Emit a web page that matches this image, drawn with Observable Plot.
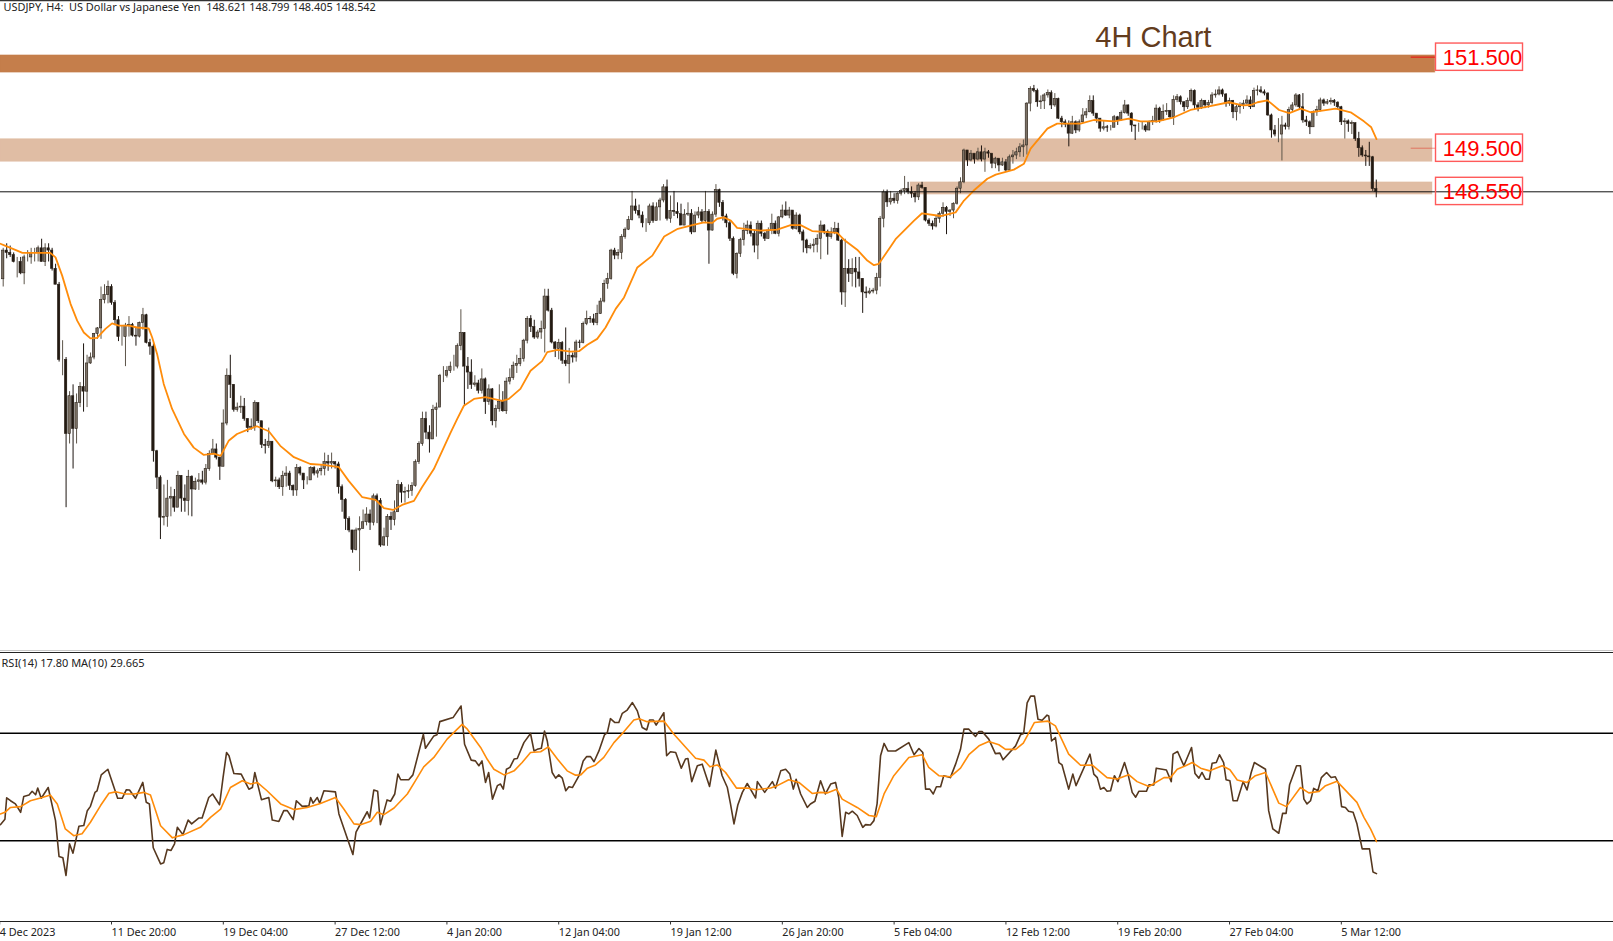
<!DOCTYPE html>
<html><head><meta charset="utf-8">
<script src="https://cdn.jsdelivr.net/npm/d3@7"></script>
<script src="https://cdn.jsdelivr.net/npm/@observablehq/plot@0.6"></script>
<style>html,body{margin:0;padding:0;background:#fff;overflow:hidden}svg{display:block}</style>
</head><body><div id="chart"></div>
<script>
const firstOpen = 146.62;
const closes = [
147.25,147.2,147.15,147.0,147.0,146.75,147.1,147.1,147.2,147.2,
147.3,147.0,147.3,147.25,146.85,146.5,144.85,144.85,143.22,144.05,
143.33,143.9,144.25,144.15,144.77,144.9,145.42,145.54,146.16,146.27,
146.45,146.1,145.72,145.35,145.35,145.6,145.62,145.38,145.36,145.66,
145.83,145.22,145.14,142.84,142.26,141.38,141.4,141.8,141.84,141.6,
142.3,141.8,141.75,142.28,142.0,142.17,142.2,142.15,142.45,142.78,
142.88,142.7,142.5,143.45,144.5,144.3,143.75,143.8,143.82,143.55,
143.35,143.38,143.9,143.5,142.98,142.96,143.05,142.18,142.2,142.05,
142.3,142.35,142.08,141.98,142.47,142.35,142.2,142.2,142.47,142.35,
142.4,142.45,142.6,142.57,142.6,142.55,142.05,141.77,141.35,141.1,
140.67,141.1,141.13,141.28,141.45,141.27,141.85,141.75,140.77,140.95,
141.4,141.33,141.5,142.1,141.93,141.95,141.97,142.08,142.6,143.0,
143.55,143.25,143.1,143.75,143.8,144.5,144.5,144.6,144.7,144.7,
145.15,145.44,144.7,144.57,144.3,144.33,144.17,144.42,143.92,144.2,
143.5,143.77,143.92,143.72,144.37,144.45,144.72,144.76,144.87,145.27,
145.75,145.57,145.34,145.45,145.53,146.24,145.93,145.23,145.09,145.22,
144.83,144.76,144.94,144.9,145.23,145.22,145.64,145.75,145.74,145.66,
145.86,146.13,146.52,146.63,147.25,147.14,147.2,147.55,147.71,147.92,
148.22,148.12,148.02,147.85,147.85,148.22,147.9,148.2,148.35,148.64,
147.95,148.12,148.1,148.05,147.8,148.04,148.06,147.65,148.02,148.09,
147.9,148.1,147.69,148.04,148.58,148.3,148.0,147.85,147.51,146.74,
147.18,147.48,147.68,147.8,147.62,147.36,147.84,147.62,147.51,147.69,
147.84,147.62,147.98,148.13,148.02,148.13,147.73,148.02,147.65,147.47,
147.3,147.35,147.38,147.51,147.8,147.66,147.55,147.65,147.73,147.47,
146.33,146.85,146.74,146.85,146.77,146.63,146.33,146.31,146.35,146.37,
146.65,147.95,148.53,148.31,148.39,148.34,148.5,148.56,148.6,148.53,
148.5,148.42,148.68,148.63,147.91,147.84,147.78,147.95,148.06,148.19,
148.1,148.13,148.28,148.61,148.75,149.45,149.23,149.38,149.25,149.41,
149.25,149.41,149.38,149.16,149.27,149.12,149.19,149.01,149.3,149.34,
149.41,149.52,149.56,150.48,150.8,150.76,150.51,150.53,150.66,150.71,
150.44,150.58,150.15,150.07,150.02,149.82,150.07,149.89,150.07,150.22,
150.29,150.54,150.26,150.15,149.93,149.96,149.95,149.95,150.18,150.11,
150.27,150.44,150.26,150.0,149.98,149.98,149.98,149.89,150.07,150.1,
150.37,150.11,150.3,150.32,150.18,150.56,150.62,150.51,150.4,150.54,
150.76,150.44,150.39,150.54,150.44,150.49,150.66,150.68,150.77,150.68,
150.48,150.54,150.29,150.4,150.44,150.48,150.55,150.4,150.76,150.77,
150.73,150.7,150.22,149.89,149.8,149.8,150.0,149.97,150.34,150.44,
150.66,150.4,150.11,150.07,149.96,150.29,150.34,150.55,150.48,150.51,
150.54,150.5,150.4,150.07,150.09,150.03,150.05,149.7,149.5,149.34,
149.32,149.3,148.6,148.54];
const highs = [
147.3,147.4,147.35,147.2,147.1,147.1,147.15,147.25,147.3,147.3,
147.35,147.5,147.4,147.4,147.3,146.95,146.55,145.27,144.9,144.15,
144.3,144.1,144.35,145.2,144.95,145.0,145.43,145.56,146.45,146.5,
146.58,146.5,146.15,145.8,145.6,145.65,145.8,145.65,145.55,145.68,
145.98,145.85,145.3,145.2,142.86,142.3,142.1,142.2,142.05,142.0,
142.4,142.3,142.1,142.42,142.3,142.25,142.35,142.4,142.55,142.85,
143.1,143.0,142.7,143.75,144.65,144.95,144.3,143.9,144.05,144.0,
143.55,143.55,143.95,143.9,143.5,143.1,143.35,143.05,142.27,142.25,
142.4,142.5,142.4,142.1,142.55,142.5,142.3,142.28,142.5,142.5,
142.45,142.55,142.8,142.75,142.8,142.6,142.6,142.1,141.8,141.4,
141.1,141.15,141.4,141.55,141.6,141.55,141.9,141.9,141.8,141.15,
141.45,141.5,141.75,142.2,142.15,142.05,142.1,142.15,142.65,143.05,
143.7,143.7,143.4,143.85,143.9,144.53,144.7,144.7,144.8,144.95,
145.2,145.95,145.45,144.9,144.85,144.5,144.4,144.65,144.45,144.3,
144.22,143.85,144.3,144.15,144.45,144.65,144.8,144.95,145.1,145.3,
145.8,145.82,145.72,145.5,145.7,146.4,146.4,145.98,145.25,145.3,
145.25,145.55,145.1,145.0,145.28,145.28,145.68,145.92,145.8,145.85,
146.05,146.2,146.6,146.75,147.28,147.3,147.27,147.6,147.75,148.0,
148.55,148.38,148.25,148.1,147.95,148.27,148.3,148.3,148.4,148.7,
148.8,148.45,148.55,148.3,148.27,148.15,148.3,148.15,148.1,148.2,
148.15,148.55,148.15,148.1,148.7,148.6,148.35,148.05,147.9,147.55,
147.2,147.52,147.85,147.9,147.88,147.7,147.9,147.9,147.65,147.75,
148.05,147.9,148.0,148.25,148.32,148.2,148.05,148.08,148.05,147.7,
147.5,147.4,147.5,147.6,147.9,147.82,147.7,147.75,147.87,147.85,
147.5,147.5,147.05,147.07,147.1,147.1,146.63,146.45,146.42,146.42,
146.75,148.0,148.58,148.58,148.55,148.5,148.52,148.6,148.88,148.75,
148.65,148.55,148.72,148.75,148.62,147.95,147.9,148.0,148.1,148.3,
148.22,148.15,148.3,148.65,148.85,149.48,149.45,149.45,149.35,149.5,
149.55,149.5,149.45,149.3,149.3,149.25,149.28,149.25,149.35,149.45,
149.5,149.6,149.68,150.5,150.85,150.88,150.8,150.65,150.7,150.78,
150.76,150.7,150.6,150.2,150.12,150.1,150.2,150.1,150.12,150.37,
150.37,150.65,150.65,150.25,150.15,150.1,150.0,150.0,150.22,150.2,
150.32,150.55,150.45,150.28,150.0,150.05,150.08,150.02,150.1,150.2,
150.45,150.4,150.45,150.48,150.33,150.65,150.68,150.65,150.52,150.6,
150.8,150.78,150.5,150.58,150.55,150.55,150.72,150.78,150.85,150.8,
150.7,150.6,150.55,150.47,150.5,150.55,150.65,150.63,150.82,150.87,
150.85,150.78,150.72,150.25,150.0,150.15,150.2,150.05,150.4,150.5,
150.7,150.68,150.7,150.2,150.1,150.32,150.42,150.6,150.58,150.57,
150.6,150.57,150.52,150.42,150.15,150.12,150.1,150.05,149.85,149.55,
149.45,149.63,149.32,148.8];
const lows = [
146.45,147.07,147.1,146.98,146.65,146.72,146.5,147.0,146.95,147.0,
147.0,147.0,146.9,147.0,146.8,146.5,144.8,144.5,141.6,143.0,
142.45,143.0,143.8,143.7,143.8,144.75,144.85,145.3,145.3,146.08,
146.08,146.05,145.6,145.25,145.15,144.7,145.35,145.35,145.15,145.33,
145.5,145.2,144.95,142.6,142.0,140.9,141.2,141.17,141.4,141.5,
141.75,141.5,141.5,141.42,141.4,141.98,141.98,142.1,142.1,142.4,
142.75,142.65,142.2,142.5,143.4,144.0,143.7,143.7,143.67,143.5,
143.25,143.3,143.28,143.45,142.9,142.78,142.9,142.15,142.05,142.0,
141.85,142.05,141.98,141.85,141.85,142.3,142.0,142.1,142.2,142.3,
142.25,142.3,142.3,142.4,142.45,142.45,141.9,141.5,141.1,141.05,
140.6,140.65,140.2,141.15,141.2,141.1,141.2,141.25,140.73,140.75,
140.75,141.1,141.2,141.5,141.7,141.7,141.8,141.85,142.05,142.55,
142.95,143.1,142.8,143.2,143.15,143.85,144.35,144.45,144.55,144.6,
144.65,145.05,143.85,144.2,144.2,144.25,144.1,144.1,143.65,143.85,
143.4,143.35,143.7,143.7,143.65,144.3,144.4,144.55,144.7,144.8,
145.2,145.45,145.3,145.3,145.3,145.0,145.9,145.2,144.9,144.85,
144.75,144.7,144.32,144.78,144.8,145.1,145.2,145.6,145.65,145.6,
145.6,145.85,146.1,146.4,146.6,147.05,147.05,147.05,147.5,147.69,
147.9,148.05,147.95,147.75,147.65,147.8,147.85,148.1,147.9,148.3,
147.9,147.85,148.0,147.95,147.8,147.8,148.0,147.6,147.65,147.95,
147.85,147.85,146.95,147.68,147.98,148.2,147.9,147.75,147.45,146.7,
146.63,147.1,147.35,147.6,147.55,147.2,147.05,147.55,147.45,147.5,
147.6,147.6,147.55,147.95,148.0,147.95,147.7,147.7,147.6,147.2,
147.18,147.27,147.2,147.2,147.05,147.6,147.15,147.5,147.6,147.45,
146.05,146.0,146.55,146.45,146.43,146.45,145.87,146.2,146.28,146.3,
146.28,146.45,147.75,148.2,148.25,148.28,148.27,148.45,148.48,148.48,
148.4,148.3,148.35,148.6,147.88,147.78,147.7,147.75,147.85,147.98,
147.6,148.0,147.95,148.25,148.5,148.72,149.1,149.2,149.15,149.22,
149.2,148.97,149.28,149.05,149.05,148.98,149.1,148.97,149.0,149.15,
149.25,149.3,149.3,149.35,150.3,150.72,150.4,150.35,150.35,150.6,
150.35,150.4,150.13,149.95,149.95,149.53,149.8,149.82,149.85,150.05,
150.15,150.28,150.2,150.05,149.85,149.88,149.85,149.88,149.95,150.0,
150.1,150.25,150.2,149.85,149.67,149.85,149.9,149.85,149.88,150.0,
150.05,150.05,150.1,150.22,150.15,150.0,150.5,150.45,150.3,150.35,
150.5,150.35,150.3,150.35,150.37,150.38,150.45,150.6,150.65,150.62,
150.4,150.42,150.15,150.1,150.25,150.35,150.45,150.35,150.55,150.65,
150.7,150.65,150.2,149.72,149.75,149.62,149.22,149.9,149.9,150.3,
150.4,150.35,150.05,149.98,149.8,150.0,150.2,150.3,150.42,150.45,
150.45,150.42,150.35,150.0,149.7,149.85,149.8,149.65,149.3,149.3,
149.1,149.1,148.55,148.41];

const maBars = [-1.3,0,3.5,5,13,14.5,16.4,18.8,20.7,22.6,24.5,26.4,28.8,30.7,32.6,35.5,37.9,41.2,42.2,43.6,45.5,47.9,51.3,54.1,57,59.9,61.8,64.1,66.5,69.4,72.2,75.6,78.9,82.8,87.5,91.3,95.7,98.5,102.4,106.2,108.6,111.2,113.8,117.2,119.5,122.9,127.7,129.6,131.5,134.4,137.7,142.5,144.4,147.7,150.6,153.9,155.4,158.3,162.1,164.5,166.9,169.7,172.1,175,177.4,181.2,185.5,188.9,192.8,197,200.3,202.7,204.1,206,208,209.8,213.7,216.5,221.3,225.1,228,231.3,234.7,238.5,240.4,244.2,247.1,249,250.4,253.8,255.2,260.5,262.8,268.1,272.4,274.8,277.6,281.5,283.9,289.1,292,293.9,298.7,301.5,308.2,312,317.8,322,325.4,330.2,335,339.7,345,350.7,354.6,357,358.9,361.8,365.1,368,371.3,374.1,377,381.3,385.6,389.4,391.5,393];
const maVals = [147.4,147.36,147.25,147.2,147.2,147.1,146.7,146.08,145.71,145.45,145.32,145.33,145.53,145.65,145.6,145.6,145.56,145.54,145.34,144.98,144.32,143.77,143.22,142.92,142.76,142.79,142.74,143.07,143.22,143.31,143.39,143.28,142.96,142.71,142.56,142.54,142.49,142.19,141.83,141.77,141.59,141.55,141.66,141.75,142.05,142.45,143.25,143.55,143.84,143.99,144.03,143.95,143.99,144.21,144.61,144.82,145.02,145.07,145.03,145.04,145.18,145.31,145.56,145.97,146.22,146.88,147.14,147.56,147.73,147.81,147.87,147.86,147.95,147.98,147.91,147.75,147.71,147.69,147.71,147.81,147.81,147.68,147.66,147.64,147.49,147.27,147.03,146.93,146.96,147.34,147.5,147.91,148.07,148.01,148.09,148.35,148.57,148.83,148.92,149.03,149.16,149.49,149.93,150.04,150.04,150.12,150.09,150.15,150.09,150.09,150.18,150.34,150.42,150.51,150.44,150.45,150.51,150.55,150.34,150.27,150.37,150.29,150.32,150.37,150.29,150.09,149.96,149.7];

const rsiBars = [-1.3,0,0.5,1.6,3,4.5,5.4,6.9,7.8,8.8,9.4,10.4,12.4,14.5,15.5,16.6,17.5,18.5,19.5,21.2,22.6,23.6,24.5,25.8,26.4,27.6,29.5,32.3,33.6,34.8,35.7,37.4,39.5,40.5,41.4,42.5,44.6,45.5,46.5,47.6,48.6,49.4,51,52.5,53.5,55.6,56.5,58.4,59.5,61.5,62.5,63.5,64.2,65.6,67.7,69.9,70.9,71.6,73.5,75.6,76.6,78.5,79.9,80.9,82.6,83.5,85.2,87.1,87.6,88.3,89.5,90.2,91.4,94.7,95.7,99.7,100.6,103.8,104.5,105.7,106.8,107.6,109.5,110.5,111.7,112.6,113.4,115.7,116.9,119.9,120.5,122.9,123.8,124.6,128.4,130.7,131.7,133.6,134.8,135.8,136.7,137.7,138.6,139.7,141.1,142,142.8,143.7,144.7,145.9,146.8,148.7,150.6,151.6,152.5,153.7,154.6,155.4,156.8,157.8,158.7,159.7,160.7,161.6,162.6,164.5,165.7,166.7,167.8,168.8,170.2,171.8,172.6,173.5,174.7,175.9,176.9,178.3,179.8,181.2,182.6,183.9,184.7,185.8,186.6,188.8,189.6,190.7,192.2,193.8,195,195.7,196.8,198.4,199.8,201.9,203.7,205.5,207,207.9,208.9,210,211.3,212.7,215.1,215.6,217.7,219.9,220.8,222.3,223.7,224.9,225.9,226.7,228,229.9,230.8,232.1,233.7,235.1,236.6,238,238.9,239.9,240.9,241.8,242.8,244.2,245.8,246.6,248,249,249.9,250.9,251.9,253,255.2,259,260.5,261.9,263,263.8,265,266,266.9,268.1,269,270.9,272.4,273.8,274.8,276.2,278.1,279.1,280,281.9,283.8,285.1,286,289.6,291,291.9,292.9,293.9,295,296,297.2,298.6,299.1,299.9,301,302,302.9,304.8,306,306.9,310.9,312,313,313.9,314.9,315.8,316.8,317.9,318.9,320.8,321.8,323,324,324.9,327.1,327.8,329.2,329.9,331.6,332.8,334.2,334.7,336,337.8,340,341,342.1,343,344,345.1,345.9,347.1,348,349.2,349.9,351,351.9,353.1,354.8,355.9,357.1,358,361.2,362.1,363.3,365,366.1,367.1,368.1,370.1,371.2,372.2,373.1,374.1,375,376.2,377.2,378.7,380,381.2,382.2,383,384.1,385,386.3,387.4,388.9,391,392,393];
const rsiVals = [36,38,46,44.9,43.7,40.6,46.5,47,48.4,47.1,49.6,45.8,49.8,37.5,24.2,23.7,17.1,28.9,25.4,35.4,35.7,41.2,42.8,48,48.6,54.5,56.6,45.8,45.8,49,48.9,45.8,51.7,44.3,43.7,27.4,21.4,21.8,26.8,26.4,28.9,35,32.3,37.7,36.3,38.5,38.5,46.1,47.4,43.4,53.5,62.8,61.6,55,54.8,49.2,49.8,55.4,45.3,46.1,37.7,37.2,41.2,41.2,37.9,44.9,42.8,43,46.1,44,46.1,44,48.6,48.2,40,24.9,33.2,40.8,38.5,48.9,48.4,36,45.2,44.7,47.4,54.8,52.7,52.7,54.5,69.6,64.4,69,69.4,74.3,75.8,80.1,65.9,60,59.7,57.9,59.7,51.7,55.4,45.5,50.5,51.1,49.2,56.6,57.3,60.4,60.6,66.5,69.9,63.4,64,64.4,70.8,67.1,55.4,53.3,54.5,53.3,48.6,50.1,49.8,54.2,59.7,61.3,61.3,59.4,63.4,69.4,70.2,75.4,74,74,77.4,78.6,81.4,78.3,72.1,71.2,74.9,74.9,73,77.6,61.6,63.1,62.8,57,60.4,60.6,52,57.9,58.5,50.2,63.7,54.2,49.8,43.7,36.3,43.3,48,51.3,45.9,52,48,52,49.6,56,56.6,54.8,49.2,52.9,47.4,42.4,43.7,44.7,52.3,47.4,51.1,51.7,46.2,31.6,40.6,40,41,39.4,35,36,35.9,37.5,43.7,61.6,66.2,63.4,63.4,66.5,62,64.3,62.8,49.2,49.2,47.4,50.1,50.1,54.2,53.5,58.5,64,71.5,71.5,68.8,70.6,70.6,67.8,62.4,62.6,60.1,65.3,69.4,69.9,81.3,83.8,83.8,75.2,74.8,76.7,76.4,67.1,68.4,59.1,58.2,49.2,54.8,50.5,62.2,54.8,53.5,49.2,49.8,48.4,48.6,54.2,52,59.1,54.8,48,46.2,48.4,48.4,50.8,50.8,57,56.6,56.3,52,62.2,63.2,57.9,64.7,55,53.3,55.4,52.9,52.9,58.8,59.1,62,59.1,52.7,52.3,44.9,44.9,52,48.9,55.4,59.1,56.6,41.2,34.4,32.8,40.2,40.2,50.8,57.9,57.9,45.5,43.7,44.9,49.5,48.6,53.5,55.4,53.5,53.8,51.1,42.7,42.4,41,40.6,36.3,27,27,18.4,17.8];

const rsiMaBars = [-1.3,0,1.6,4.5,7.3,10.7,13,15,17.3,19.7,22.1,24.5,27.4,29.8,31.7,34.5,37,39.8,41.7,44.6,48,51.3,56,58.9,61.8,64.6,68,70.4,72.3,75.1,79,82.8,86.6,90.4,94.7,97.1,100,101.9,104.8,106.7,108.6,111.5,115.3,117.6,120,122.9,126.7,131,132.5,136.3,138.2,140.1,143,145.9,148.2,150.6,153.5,155.7,158.3,161.1,163.5,165,166.9,169.2,171.6,174.5,177.4,180.2,181.7,184,188.8,191.7,195.5,197.9,200.3,202,204.1,206.5,209.6,212.7,215.1,219.4,221.3,224.6,227.5,231.3,233.7,235.6,238.3,239.9,244.2,247.6,249.7,251.9,254.7,259,262.8,264.7,267.6,270.9,273.8,276.2,279.1,281.9,284.8,286.7,289.6,291.8,295,298.8,301,304.8,308.2,311.5,315.8,318.7,322,324.4,327.8,332.1,334,335.9,338.3,340.2,342.6,345.2,348.8,351,353.1,355.9,358.3,361.2,365,367.2,371.2,373.6,376.5,378.4,381.7,387.4,389.4,391.3,393];
const rsiMaVals = [40,40.6,42.4,42.7,44.9,46.1,47,43.7,34.4,31.9,32.6,36.9,43.1,47.7,48.2,47.4,47.4,48,47,35.6,31.1,32.3,35,38.7,41.8,49.8,52.3,51.1,51.7,48.6,43.7,41.6,42.4,43.9,46.1,41.8,36.3,36,37.3,40.6,39.7,42.2,47.4,52.3,57.5,61,67.8,73.3,71.5,64.7,60.3,56.6,54.5,56,59.1,62.8,63.1,64.9,60.4,56,54.4,54.5,57,58.2,61,66.5,70.6,74.9,75.4,74.3,74.5,69.6,64.1,60.7,60,57.5,58.2,55.4,49.6,49.6,49,49.6,50.5,52.7,51.7,47.6,48,47.8,49.2,45.5,42.4,39.4,39,47.4,54.2,61,62,57.3,54.2,53.8,57,62,65.3,66.9,65.7,64,64,66.3,74,74.5,72.7,62.2,58.1,58.2,53.5,53,54.6,52,50.2,53.5,53.5,56.6,57.9,59.1,57,56,57.9,56.4,52.6,51.7,54.2,55.4,44,42.7,49.8,47.8,48.3,50.5,52.1,44.3,38.7,34.4,29.7];

const tickBars = [-1,31,63,95,127,159,191,223,255,287,319,351,383];
const tickLabels = ["4 Dec 2023","11 Dec 20:00","19 Dec 04:00","27 Dec 12:00","4 Jan 20:00","12 Jan 04:00","19 Jan 12:00","26 Jan 20:00","5 Feb 04:00","12 Feb 12:00","19 Feb 20:00","27 Feb 04:00","5 Mar 12:00"];

const levels = [151.5, 149.5, 148.55];
const levelLabels = ["151.500","149.500","148.550"];
const levelLineAlpha = [0.9, 0.5, 0];
const levelLineWidth = [1.6, 1, 0];
const zoneTop = [151.54, 149.70, 148.75];
const zoneBottom = [151.16, 149.20, 148.48];
const zoneStart = [-0.78, -0.78, 259.7];
const zoneEnd = [409.9, 409.1, 409.1];
const zoneColor = ["#c57e4b", "#e0bda4", "#e0bda4"];
const lastPrice = 148.542;
const rsiLevels = [70, 30];
const priceDomain = [138.44, 152.746];
const barDomain = [-0.773, 460.9];
const UI = "'Noto Sans', sans-serif";
const lineBar = d => d.x * 0.9989 + 0.495;

const candles = closes.map((c, i) => {
  const o = i === 0 ? firstOpen : closes[i - 1];
  return {i, o, c, h: highs[i], l: lows[i], up: c >= o};
});
const zones = levels.map((v, k) => ({top: zoneTop[k], bottom: zoneBottom[k], a: zoneStart[k], b: zoneEnd[k], fill: zoneColor[k]}));
const labels = levels.map((v, k) => ({v, t: levelLabels[k], alpha: levelLineAlpha[k], w: levelLineWidth[k]}));
const pairs = (xs, ys) => xs.map((x, k) => ({x, y: ys[k]}));

const price = Plot.plot({
  width: 1613, height: 651, margin: 0,
  x: {type: "linear", domain: barDomain, range: [0, 1613], axis: null},
  y: {type: "linear", domain: priceDomain, range: [651, 0], axis: null},
  strokeWidth: {type: "identity"},
  style: {background: "#fff"},
  marks: [
    Plot.rect(zones, {x1: "a", x2: "b", y1: "bottom", y2: "top", fill: "fill", stroke: "fill", strokeOpacity: 0.35, strokeWidth: 1}),
    Plot.ruleX(candles, {x: "i", y1: "l", y2: "h", stroke: d => d.up ? "#5d554a" : "#1d1510", strokeWidth: 1}),
    Plot.rect(candles, {x1: d => d.i - 0.34, x2: d => d.i + 0.34, y1: "o", y2: "c", fill: d => d.up ? "#7c7266" : "#231a12", stroke: "#2a2118", strokeWidth: 0.6}),
    Plot.line(pairs(maBars, maVals), {x: lineBar, y: "y", stroke: "#ff8c0a", strokeWidth: 1.8, curve: "linear"}),
    Plot.ruleY(labels.filter(d => d.alpha > 0).slice(0, 1), {y: "v", x1: 403, x2: 410.1, stroke: "#e03020", strokeOpacity: 0.9, strokeWidth: 1.6}),
    Plot.ruleY(labels.filter(d => d.alpha > 0).slice(1), {y: "v", x1: 403, x2: 410.1, stroke: "#e03020", strokeOpacity: 0.5, strokeWidth: 1}),
    Plot.ruleY([lastPrice], {stroke: "#111", strokeWidth: 1}),
    Plot.rect(labels, {x1: 410.1, x2: 435, y1: d => d.v - 0.30, y2: d => d.v + 0.30, fill: "none", stroke: "#ff5a5a", strokeWidth: 1.4}),
    Plot.text(labels, {x: 423.4, y: "v", dy: 0.5, text: "t", fill: "#ff0000", fontSize: 22, fontFamily: "'Liberation Sans', sans-serif", textAnchor: "middle", lineAnchor: "middle"}),
    Plot.text(["4H Chart"], {x: 329.2, y: 151.93, text: d => d, fill: "#633c1d", fontSize: 29, fontFamily: "'Liberation Sans', sans-serif", textAnchor: "middle", lineAnchor: "middle"}),
    Plot.text(["USDJPY, H4:  US Dollar vs Japanese Yen  148.621 148.799 148.405 148.542"], {frameAnchor: "top-left", dx: 3, dy: 3, text: d => d, fill: "#222", fontSize: 10.9, fontFamily: UI, lineAnchor: "top", textAnchor: "start"}),
    Plot.ruleY([priceDomain[1]], {stroke: "#333", strokeWidth: 1.5}),
    Plot.ruleY([priceDomain[0]], {stroke: "#222", strokeWidth: 1.5})
  ]
});

const rsi = Plot.plot({
  width: 1613, height: 290, marginTop: 1, marginBottom: 20, marginLeft: 0, marginRight: 0,
  x: {type: "linear", domain: barDomain, range: [0, 1613], axis: null},
  y: {type: "linear", domain: [0, 100], axis: null},
  style: {background: "#fff"},
  marks: [
    Plot.ruleY([100], {stroke: "#222", strokeWidth: 1}),
    Plot.ruleY(rsiLevels, {stroke: "#000", strokeWidth: 1.6}),
    Plot.line(pairs(rsiBars, rsiVals), {x: lineBar, y: "y", stroke: "#56381f", strokeWidth: 1.6, curve: "linear"}),
    Plot.line(pairs(rsiMaBars, rsiMaVals), {x: lineBar, y: "y", stroke: "#ff8c0a", strokeWidth: 1.6, curve: "linear"}),
    Plot.ruleY([0], {stroke: "#222", strokeWidth: 1.2}),
    Plot.ruleX(tickBars, {x: d => d, y1: 0, y2: -1.3, stroke: "#333", strokeWidth: 1}),
    Plot.text(["RSI(14) 17.80 MA(10) 29.665"], {frameAnchor: "top-left", dx: 1, dy: 7, text: d => d, fill: "#222", fontSize: 11, fontFamily: UI, lineAnchor: "top", textAnchor: "start"}),
    Plot.text(tickLabels, {x: (d, k) => tickBars[k], frameAnchor: "bottom", dx: 0, dy: 14, text: d => d, fill: "#222", fontSize: 10.8, fontFamily: UI, textAnchor: "start", lineAnchor: "bottom"})
  ]
});

const host = document.getElementById("chart");
host.append(price, rsi);
</script></body></html>
